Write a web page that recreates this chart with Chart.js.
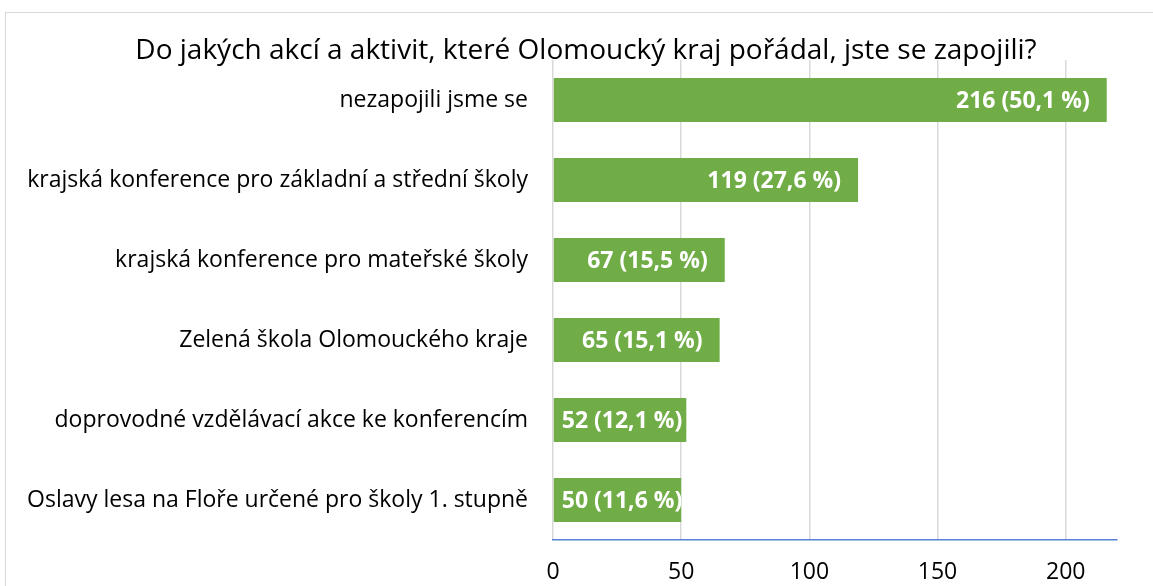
<!DOCTYPE html>
<html>
<head>
<meta charset="utf-8">
<script src="https://cdn.jsdelivr.net/npm/chart.js@4"></script>
<style>
  html, body { margin: 0; padding: 0; background: #fff; }
  #wrap { position: relative; width: 1153px; height: 586px; overflow: hidden; }
  #frame { position: absolute; left: 5px; top: 12px; width: 1200px; height: 700px; border: 1px solid #d9d9d9; box-sizing: border-box; }
  canvas { position: absolute; left: 0; top: 0; }
</style>
</head>
<body>
<div id="wrap">
  <div id="frame"></div>
  <canvas id="chart" width="1153" height="586"></canvas>
</div>
<script>
// Categories and values
const categories = [
  'nezapojili jsme se',
  'krajská konference pro základní a střední školy',
  'krajská konference pro mateřské školy',
  'Zelená škola Olomouckého kraje',
  'doprovodné vzdělávací akce ke konferencím',
  'Oslavy lesa na Floře určené pro školy 1. stupně'
];
const counts = [216, 119, 67, 65, 52, 50];
const percents = ['50,1', '27,6', '15,5', '15,1', '12,1', '11,6'];
const xTicks = [0, 50, 100, 150, 200];
const chartTitle = 'Do jakých akcí a aktivit, které Olomoucký kraj pořádal, jste se zapojili?';

const FONT = '"Open Sans", sans-serif';

// Title drawn by hand so it can sit centred on the whole picture, over the grid top
const titlePlugin = {
  id: 'titlePlugin',
  afterDraw(chart) {
    const ctx = chart.ctx;
    ctx.save();
    ctx.font = '28px ' + FONT;
    ctx.fillStyle = '#000';
    ctx.textAlign = 'center';
    ctx.textBaseline = 'middle';
    ctx.fillText(chartTitle, 586, 51);
    ctx.restore();
  }
};

// Draw "count (pct %)" inside the end of each bar, clipped to the bar
const barLabels = {
  id: 'barLabels',
  afterDatasetsDraw(chart) {
    const ctx = chart.ctx;
    const meta = chart.getDatasetMeta(0);
    ctx.font = 'bold 23px ' + FONT;
    ctx.fillStyle = '#ffffff';
    ctx.textBaseline = 'middle';
    meta.data.forEach((bar, i) => {
      const text = counts[i] + ' (' + percents[i] + ' %)';
      const w = ctx.measureText(text).width;
      const left = Math.max(bar.base + 8, bar.x - 17 - w);
      ctx.save();
      ctx.beginPath();
      ctx.rect(bar.base, bar.y - bar.height / 2, bar.x - bar.base, bar.height);
      ctx.clip();
      ctx.textAlign = 'left';
      ctx.fillText(text, left, bar.y + 1);
      ctx.restore();
    });
  }
};

new Chart(document.getElementById('chart'), {
  type: 'bar',
  data: {
    labels: categories,
    datasets: [{
      data: counts,
      backgroundColor: '#70ad47',
      barPercentage: 0.55,
      categoryPercentage: 1
    }]
  },
  options: {
    indexAxis: 'y',
    responsive: false,
    animation: false,
    layout: { padding: { left: 0, right: 36, top: 60, bottom: 0 } },
    plugins: {
      legend: { display: false },
      tooltip: { enabled: false },
      title: { display: false }
    },
    scales: {
      x: {
        min: 0,
        max: 220,
        afterBuildTicks(scale) {
          scale.ticks = xTicks.map(v => ({ value: v }));
        },
        afterFit(scale) { scale.height = 46; },
        grid: { color: '#d9d9d9', lineWidth: 1.5, drawTicks: false },
        border: { display: true, color: '#5583d3', width: 1.5 },
        ticks: { color: '#000', padding: 19, font: { family: FONT, size: 23 } }
      },
      y: {
        afterFit(scale) { scale.width = 553; },
        grid: { display: false, drawTicks: false },
        border: { display: false },
        ticks: { color: '#000', padding: 25, font: { family: FONT, size: 23 } }
      }
    }
  },
  plugins: [barLabels, titlePlugin]
});
</script>
</body>
</html>
